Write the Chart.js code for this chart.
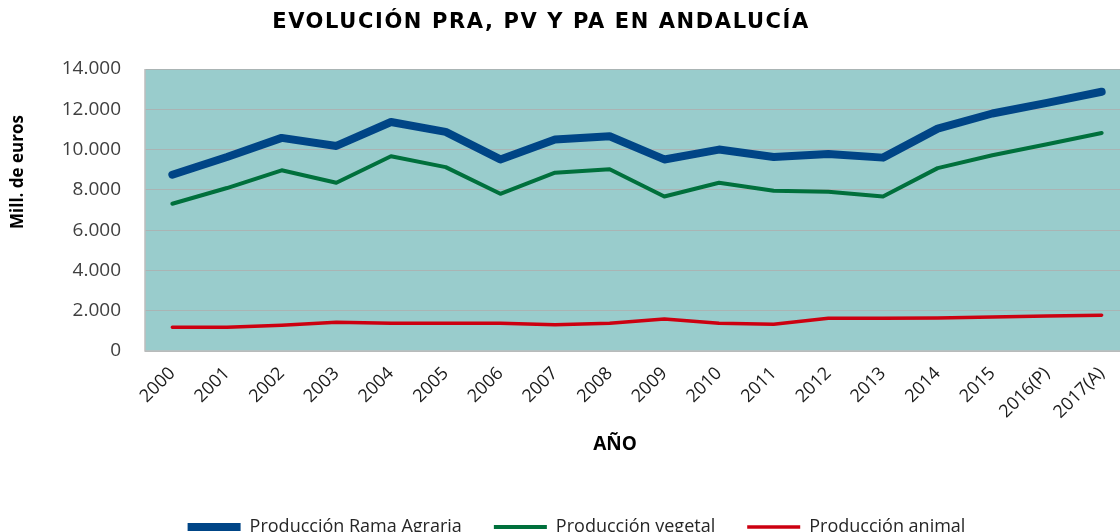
<!DOCTYPE html>
<html>
<head>
<meta charset="utf-8">
<script src="https://cdn.jsdelivr.net/npm/chart.js@4/dist/chart.umd.min.js"></script>
<style>
html,body{margin:0;padding:0;background:#fff;overflow:hidden;width:1120px;height:532px;}
#wrap{position:absolute;left:0;top:0;width:1140px;height:546px;}
</style>
</head>
<body>
<div id="wrap"><canvas id="c" width="1140" height="546"></canvas></div>
<script>
const titleText = 'EVOLUCIÓN PRA, PV Y PA EN ANDALUCÍA';
const yTitle = 'Mill. de euros';
const xTitle = 'AÑO';
const years = ['2000','2001','2002','2003','2004','2005','2006','2007','2008','2009','2010','2011','2012','2013','2014','2015','2016(P)','2017(A)'];
const ramaAgraria = [8750,9630,10580,10180,11370,10880,9510,10500,10660,9510,10000,9630,9780,9600,11040,11790,12320,12870];
const prodVegetal = [7310,8090,8970,8350,9665,9130,7805,8850,9020,7670,8350,7955,7905,7670,9080,9715,10260,10825];
const prodAnimal = [1180,1180,1280,1430,1380,1380,1380,1300,1380,1590,1380,1330,1630,1630,1640,1690,1740,1780];
const seriesNames = ['Producción Rama Agraria','Producción vegetal','Producción animal'];
const yMax = 14000, yStep = 2000;

function fmt(v){ return String(v).replace(/\B(?=(\d{3})+(?!\d))/g,'.'); }

const decor = {
  id:'decor',
  afterLayout(chart){
    if (chart.legend) { chart.legend.left += 12; chart.legend.right += 12; }
  },
  beforeDraw(chart){
    const {ctx, chartArea:a} = chart;
    ctx.save();
    ctx.fillStyle = '#99cccc';
    ctx.fillRect(a.left, a.top, a.right-a.left, a.bottom-a.top);
    ctx.restore();
  },
  afterDatasetsDraw(chart){
    const {ctx, chartArea:a} = chart;
    ctx.save();
    ctx.strokeStyle = '#bdbdbd';
    ctx.lineWidth = 1.5;
    ctx.beginPath();
    ctx.moveTo(a.left, a.top); ctx.lineTo(a.left, a.bottom); ctx.lineTo(a.right, a.bottom);
    ctx.stroke();
    ctx.restore();
  },
  afterDraw(chart){
    const ctx = chart.ctx;
    ctx.save();
    ctx.fillStyle = '#000';
    ctx.textAlign = 'center';
    ctx.textBaseline = 'middle';
    ctx.font = 'bold 21px "DejaVu Sans"';
    ctx.letterSpacing = '1.6px';
    ctx.fillText(titleText, 541, 23);
    ctx.letterSpacing = '0px';
    ctx.font = 'bold 19px "Open Sans"';
    ctx.fillText(xTitle, 615, 445);
    ctx.translate(18, 172);
    ctx.rotate(-Math.PI/2);
    ctx.font = 'bold 17px "Open Sans"';
    ctx.fillText(yTitle, 0, 0);
    ctx.restore();
  }
};

new Chart(document.getElementById('c'), {
  type:'line',
  data:{
    labels: years,
    datasets:[
      {label:seriesNames[0], data:ramaAgraria, borderColor:'#004586', backgroundColor:'#004586', borderWidth:8},
      {label:seriesNames[1], data:prodVegetal, borderColor:'#00703c', backgroundColor:'#00703c', borderWidth:4},
      {label:seriesNames[2], data:prodAnimal, borderColor:'#cc0010', backgroundColor:'#cc0010', borderWidth:3.5}
    ]
  },
  options:{
    responsive:false,
    animation:false,
    events:[],
    layout:{padding:{top:69,left:0,right:11,bottom:0}},
    elements:{
      line:{tension:0, borderCapStyle:'round', borderJoinStyle:'round'},
      point:{radius:0, hoverRadius:0}
    },
    plugins:{
      title:{display:false},
      tooltip:{enabled:false},
      legend:{
        position:'bottom',
        labels:{
          usePointStyle:true,
          pointStyle:'line',
          pointStyleWidth:53,
          boxHeight:18,
          padding:32,
          color:'#262626',
          font:{family:'"Open Sans"', size:18}
        }
      }
    },
    scales:{
      x:{
        offset:true,
        grid:{display:false, drawTicks:false},
        border:{display:false},
        afterFit(s){ s.height = 135; },
        ticks:{
          autoSkip:false, maxRotation:45, minRotation:45, padding:12,
          color:'#1a1a1a', font:{family:'"Open Sans"', size:18}
        }
      },
      y:{
        min:0, max:yMax,
        afterFit(s){ s.width = 145; },
        grid:{color:'#aab4b4', lineWidth:1, drawTicks:false},
        border:{display:false},
        ticks:{
          stepSize:yStep, padding:24, color:'#404040',
          font:{family:'"Open Sans"', size:19},
          callback:(v)=>fmt(v)
        }
      }
    }
  },
  plugins:[decor]
});
</script>
</body>
</html>
